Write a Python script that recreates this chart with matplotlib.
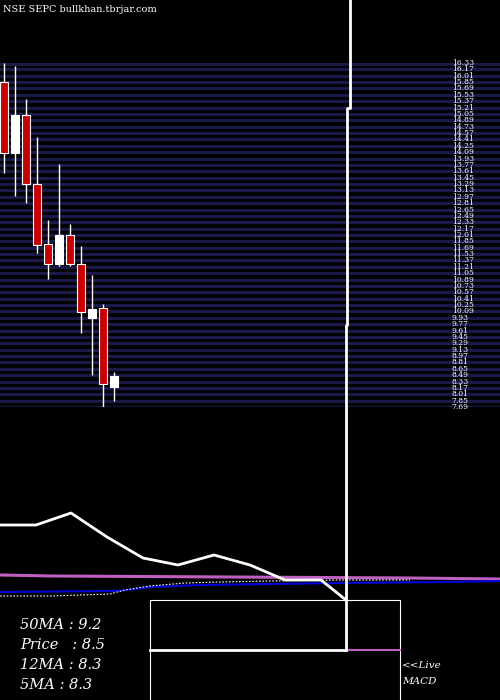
import matplotlib
matplotlib.use("Agg")
import matplotlib.pyplot as plt
from matplotlib.patches import Rectangle

opens  = [15.85, 14.07, 15.02, 13.29, 11.78, 11.28, 12.01, 11.28, 9.92, 10.17, 8.19]
closes = [14.07, 15.02, 13.29, 11.76, 11.28, 12.01, 11.28, 10.07, 10.15, 8.26, 8.47]
highs  = [16.33, 16.25, 15.43, 14.47, 12.39, 13.79, 12.28, 11.73, 11.00, 10.27, 8.57]
lows   = [13.57, 12.99, 12.81, 11.56, 10.90, 11.23, 11.23, 9.55, 8.49, 7.69, 7.84]

levels = [16.33,16.17,16.01,15.85,15.69,15.53,15.37,15.21,15.05,14.89,14.73,14.57,14.41,14.25,
          14.09,13.93,13.77,13.61,13.45,13.29,13.13,12.97,12.81,12.65,12.49,12.33,12.17,12.01,
          11.85,11.69,11.53,11.37,11.21,11.05,10.89,10.73,10.57,10.41,10.25,10.09,9.93,9.77,
          9.61,9.45,9.29,9.13,8.97,8.81,8.65,8.49,8.33,8.17,8.01,7.85,7.69]

macd_x = [0, 36, 71, 107, 143, 178, 214, 250, 285, 321, 346]
macd_y = [525, 525, 513, 537, 558, 565, 555, 565, 580, 580, 600]
purple_x = [0, 53, 232, 410, 500]
purple_y = [575, 576, 577, 578, 579]
blue_x = [0, 115, 135, 150, 200, 270, 340, 445, 500]
blue_y = [592, 591, 589, 587, 585, 584, 583, 582, 581]
dot_x = [0, 50, 110, 125, 150, 185, 220, 270, 340, 410]
dot_y = [596, 596, 594, 590, 586, 583, 582, 581, 580, 580]

fig = plt.figure(figsize=(5, 7), dpi=100, facecolor="black")
ov = fig.add_axes([0, 0, 1, 1], facecolor="black")
ov.set_xlim(0, 500); ov.set_ylim(700, 0); ov.axis("off")

pa = fig.add_axes([0, (700-407)/700, 1, (407-63)/700], facecolor="none")
pa.set_ylim(7.69, 16.33); pa.set_xlim(-4/11, 496/11); pa.axis("off")
for i, lv in enumerate(levels):
    pa.axhline(lv, color="#1a1a4a", lw=3.5 if i == 0 else 2.3, zorder=1)
    pa.text(40.7, lv, f"{lv:.2f}", color="white", fontsize=5.5, family="DejaVu Serif",
            va="center", ha="left", zorder=3)
for i in range(len(opens)):
    up = closes[i] >= opens[i]
    c = "white" if up else "#cc0000"
    pa.vlines(i, lows[i], highs[i], color="white", lw=1, zorder=2)
    lo, hi = min(opens[i], closes[i]), max(opens[i], closes[i])
    pa.add_patch(Rectangle((i-0.4, lo), 0.8, hi-lo, facecolor=c, edgecolor="white", lw=0.8, zorder=3))

top = fig.add_axes([0, 0, 1, 1], facecolor="none")
top.set_xlim(0, 500); top.set_ylim(700, 0); top.axis("off")
top.plot([350, 350, 347, 347, 346, 346], [0, 108, 108, 325, 325, 650], color="white", lw=2)

ov.text(3, 9, "NSE SEPC bullkhan.tbrjar.com", color="white", fontsize=7, family="DejaVu Serif", va="center")
ov.plot([150, 346], [650, 650], color="white", lw=2)
ov.plot([347, 400], [650, 650], color="#c060c0", lw=1.5)
ov.add_patch(Rectangle((150, 600), 250, 110, fill=False, edgecolor="white", lw=0.8))

ov.plot(purple_x, purple_y, color="#c060c0", lw=2.2)
ov.plot(blue_x, blue_y, color="#0000dd", lw=1.5)
ov.plot(dot_x, dot_y, color="white", lw=0.8, ls=(0, (1.5, 1.5)))
ov.plot(macd_x, macd_y, color="white", lw=2)

for y, t in [(625, "50MA : 9.2"), (645, "Price   : 8.5"), (665, "12MA : 8.3"), (685, "5MA : 8.3")]:
    ov.text(20, y, t, color="white", fontsize=10.5, family="DejaVu Serif", style="italic", va="center")
ov.text(402, 666, "<<Live", color="white", fontsize=7.5, family="DejaVu Serif", style="italic", va="center")
ov.text(402, 681, "MACD", color="white", fontsize=7.5, family="DejaVu Serif", style="italic", va="center")

fig.savefig("out.png", dpi=100, facecolor="black")
